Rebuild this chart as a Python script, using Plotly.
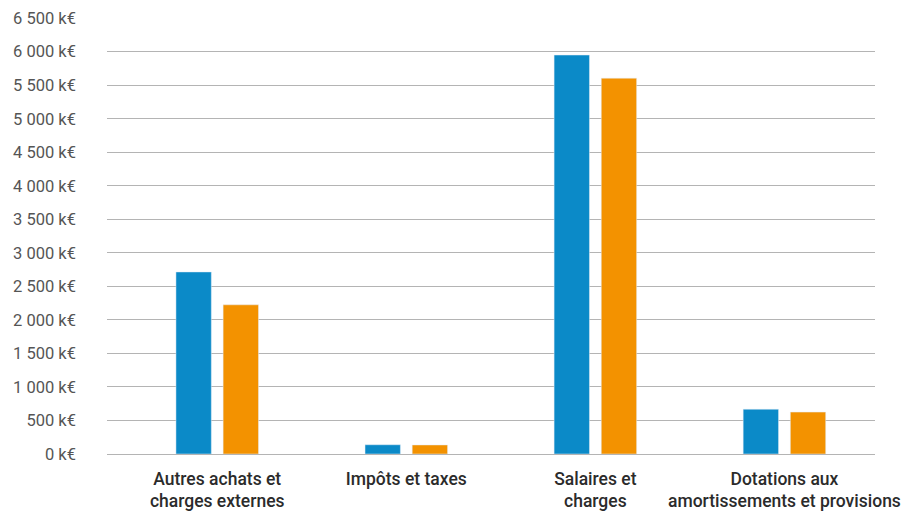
import plotly.graph_objects as go

categories = [
    "Autres achats et<br>charges externes",
    "Impôts et taxes",
    "Salaires et<br>charges",
    "Dotations aux<br>amortissements et provisions",
]
serie_1 = [2715, 138, 5950, 668]
serie_2 = [2225, 135, 5605, 625]

tick_vals = list(range(0, 7000, 500))
tick_text = [f"{v:,}".replace(",", " ") + " k€" for v in tick_vals]

fig = go.Figure()
fig.add_trace(go.Bar(x=list(range(4)), y=serie_1, marker_color="#0b8ac8", name="N"))
fig.add_trace(go.Bar(x=list(range(4)), y=serie_2, marker_color="#f39200", name="N-1"))

fig.update_layout(
    barmode="group",
    bargap=0.501,
    bargroupgap=0.25,
    showlegend=False,
    autosize=False,
    plot_bgcolor="white",
    paper_bgcolor="white",
    width=901,
    height=511,
    margin=dict(l=107, r=0, t=18, b=53),
    font=dict(family="Roboto", size=16, color="#555555"),
    xaxis=dict(
        tickmode="array",
        tickvals=list(range(4)),
        ticktext=categories,
        range=[-0.583, 3.479],
        showgrid=False,
        zeroline=False,
        showline=False,
        ticklabeloverflow="allow",
        ticklabelstandoff=12,
        tickfont=dict(family="Roboto", size=17.5, color="#2b2b2b", weight=500),
    ),
    yaxis=dict(
        range=[0, 6502],
        tickmode="array",
        tickvals=tick_vals,
        ticktext=tick_text,
        showgrid=True,
        gridcolor="#b4b4b4",
        gridwidth=1,
        zeroline=True,
        zerolinecolor="#b4b4b4",
        zerolinewidth=1,
        ticklabelstandoff=30,
        tickfont=dict(family="Roboto", size=16.5, color="#555555"),
    ),
)

# drop the default body margin so the figure fills the window
fig.write_html(
    "out.html",
    config={"responsive": False, "displayModeBar": False},
    post_script="document.body.style.margin = '0';",
)
